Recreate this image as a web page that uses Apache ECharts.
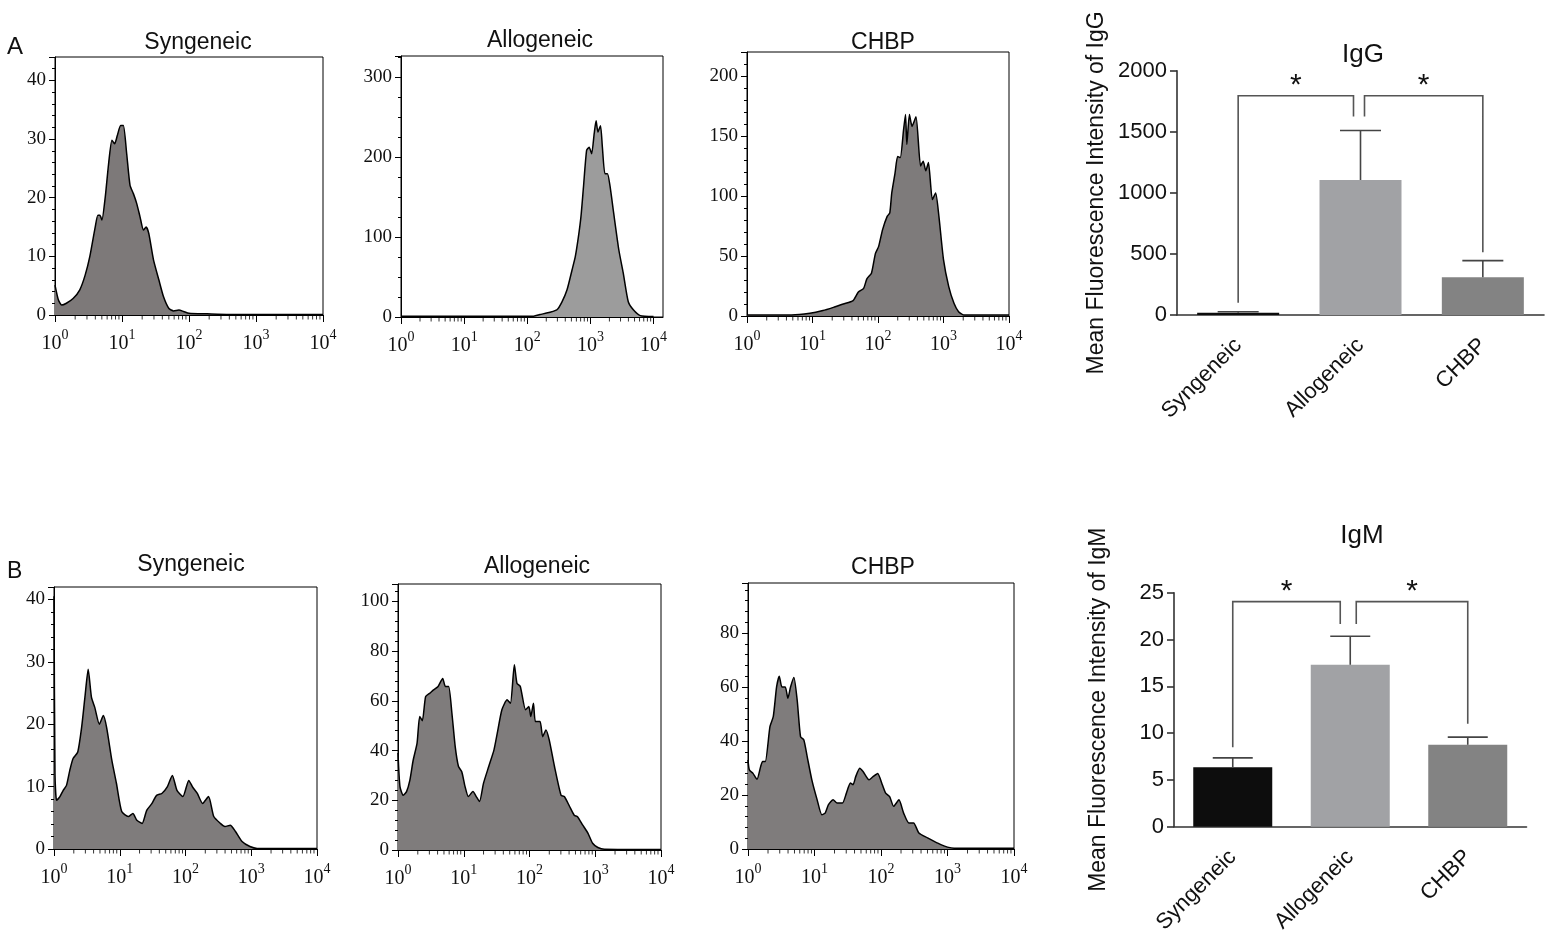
<!DOCTYPE html>
<html>
<head>
<meta charset="utf-8">
<script src="https://cdn.jsdelivr.net/npm/echarts@6/dist/echarts.min.js"></script>
<style>
html, body { margin: 0; padding: 0; background: #fff; }
#fig { width: 1546px; height: 937px; }
</style>
</head>
<body>
<div id="fig"></div>
<script>
// histogram points: [log10 of fluorescence, count]
var igGSyngeneic = [[0,5.1],[0.05,2.6],[0.1,1.7],[0.17,2.0],[0.27,2.8],[0.37,4.3],[0.45,6.8],[0.52,10],[0.6,15],[0.64,17],[0.67,17],[0.7,16.2],[0.75,20.1],[0.8,25.8],[0.85,29.8],[0.89,29.2],[0.93,30.6],[0.98,32.3],[1.02,32.3],[1.07,27.5],[1.12,22.1],[1.17,20.7],[1.22,19],[1.27,16.7],[1.32,14.5],[1.36,15],[1.4,13.9],[1.47,9.4],[1.55,6],[1.62,3.1],[1.7,1.1],[1.77,0.7],[1.85,0.85],[1.92,0.6],[2.0,0.3],[2.27,0.2],[2.6,0.1],[4,0.1]];
var igGAllogeneic = [[0,1],[2.1,1],[2.2,3],[2.36,6],[2.47,9],[2.55,19],[2.63,34],[2.71,59],[2.76,75],[2.81,100],[2.85,125],[2.89,162],[2.94,208],[2.98,212],[3.02,204],[3.06,229],[3.09,245],[3.12,231],[3.16,239],[3.19,212],[3.23,179],[3.27,179],[3.31,164],[3.37,129],[3.45,84],[3.52,55],[3.6,19],[3.68,9],[3.79,1.7],[4,0.5]];
var igGCHBP = [[0,0.8],[0.68,0.8],[0.96,2.2],[1.16,4.5],[1.32,7.2],[1.47,10],[1.62,12.8],[1.7,20],[1.78,23],[1.83,31],[1.9,35.7],[1.96,52],[2.01,58],[2.07,72],[2.14,83],[2.18,86],[2.21,102.5],[2.26,119],[2.3,133],[2.34,132],[2.39,155],[2.42,168],[2.44,143],[2.48,168],[2.52,158],[2.58,166],[2.65,125],[2.69,129],[2.73,121],[2.77,128],[2.83,97],[2.88,102.5],[2.93,83],[3.0,47],[3.08,24.5],[3.16,10.6],[3.23,3.6],[3.31,0.8],[4,0.8]];
var igMSyngeneic = [[0,40.5],[0.015,12],[0.04,7.8],[0.09,8.4],[0.14,9.4],[0.19,10.2],[0.24,12.6],[0.29,14.5],[0.36,15.5],[0.42,19.5],[0.47,24.3],[0.52,28.8],[0.57,24.3],[0.62,22.7],[0.69,20],[0.75,21.4],[0.8,19.5],[0.88,14.2],[0.95,10.5],[1.03,6],[1.13,5.2],[1.2,5.7],[1.26,4.6],[1.34,4.1],[1.41,6.2],[1.49,7.3],[1.56,8.6],[1.64,8.9],[1.72,9.9],[1.8,11.8],[1.87,9.4],[1.96,8.4],[2.05,11],[2.11,9.9],[2.18,8.9],[2.26,7.3],[2.35,8.4],[2.43,5.2],[2.53,4.1],[2.6,3.6],[2.68,3.8],[2.76,2.8],[2.86,1.2],[2.98,0.4],[3.09,0.1],[4,0.1]];
var igMAllogeneic = [[0,39],[0.03,25.5],[0.08,22],[0.13,23.5],[0.18,28],[0.23,36],[0.29,43],[0.33,53.7],[0.37,52],[0.42,61.7],[0.48,63],[0.54,64.4],[0.61,65.8],[0.68,69],[0.72,65.8],[0.77,65.8],[0.82,55],[0.87,41.6],[0.92,33.6],[0.97,31.5],[1.02,25.5],[1.07,21.5],[1.14,23.5],[1.19,21.5],[1.24,19.5],[1.3,26.8],[1.38,33.6],[1.46,40.3],[1.51,47],[1.58,56.4],[1.66,60.4],[1.71,59],[1.77,74.5],[1.81,67],[1.86,65.8],[1.94,56.4],[1.99,57.7],[2.02,53.7],[2.06,59],[2.09,51.7],[2.16,51.7],[2.2,45.6],[2.25,48.3],[2.3,44.3],[2.38,33.6],[2.48,22],[2.53,21.5],[2.61,17.5],[2.68,14],[2.73,13.4],[2.81,10],[2.89,6.7],[2.96,2.7],[3.04,1],[3.14,0.3],[4,0.2]];
var igMCHBP = [[0,33],[0.02,29.3],[0.075,28],[0.135,25.8],[0.19,30.5],[0.22,32.4],[0.26,32.4],[0.33,45.3],[0.38,49],[0.43,60],[0.47,64],[0.51,60],[0.56,60],[0.6,55.8],[0.64,60],[0.69,63.5],[0.74,55],[0.79,41.6],[0.84,40.4],[0.89,34.2],[0.96,25.6],[1.04,18.2],[1.11,12.7],[1.16,13.3],[1.21,16.4],[1.28,18.2],[1.34,17],[1.42,17],[1.48,20.7],[1.54,24.4],[1.58,23.8],[1.62,26.8],[1.68,29.9],[1.73,28.7],[1.82,25.6],[1.88,26.8],[1.95,28],[2.02,23.8],[2.07,20.7],[2.13,19.4],[2.19,15.8],[2.27,18.2],[2.34,13.3],[2.42,9.6],[2.49,9.6],[2.57,5.9],[2.7,4.1],[2.8,2.8],[2.9,1.6],[3.0,0.7],[3.1,0.3],[4,0.3]];

var groups = ['Syngeneic', 'Allogeneic', 'CHBP'];
var igGMean = [18, 1105, 309];
var igGError = [8, 405, 136];
var igMMean = [6.35, 17.3, 8.75];
var igMError = [1.0, 3.05, 0.82];
var barColors = ['#0d0d0d', '#a1a2a5', '#838383'];
// [outer group, middle group, outer foot, top, middle foot]
var igGBrackets = [[0, 1, 100, 1795, 1625], [2, 1, 514, 1795, 1625]];
var igMBrackets = [[0, 1, 8.5, 24.05, 21.65], [2, 1, 11.0, 24.05, 21.65]];

var SANS = 'Liberation Sans';
var SERIF = 'Liberation Serif';

var fig = echarts.init(document.getElementById('fig'));

var histPanels = [
    {data: igGSyngeneic, title: 'Syngeneic', tx: 193, ty: 26, box: {left: 55, top: 57, width: 268, height: 258}, xMax: 4, yMax: 44, yStep: 10, minor: 5, fill: '#7d7979'},
    {data: igGAllogeneic, title: 'Allogeneic', tx: 535, ty: 24, box: {left: 401, top: 56, width: 262, height: 261}, xMax: 4.15, yMax: 326, yStep: 100, minor: 4, fill: '#9c9c9c'},
    {data: igGCHBP, title: 'CHBP', tx: 878, ty: 26, box: {left: 747, top: 52, width: 262, height: 264}, xMax: 4, yMax: 220, yStep: 50, minor: 5, fill: '#7e7b7b'},
    {data: igMSyngeneic, title: 'Syngeneic', tx: 186, ty: 548, box: {left: 54, top: 587, width: 263, height: 262}, xMax: 4, yMax: 42, yStep: 10, minor: 5, fill: '#7f7c7c'},
    {data: igMAllogeneic, title: 'Allogeneic', tx: 532, ty: 550, box: {left: 398, top: 584, width: 263, height: 266}, xMax: 4, yMax: 107, yStep: 20, minor: 5, fill: '#7f7c7c'},
    {data: igMCHBP, title: 'CHBP', tx: 878, ty: 551, box: {left: 748, top: 583, width: 266, height: 266}, xMax: 4, yMax: 98.5, yStep: 20, minor: 5, fill: '#7f7c7c'}
];

// minor decade ticks 2..9 on the log axis
var decadeTicks = [];
for (var d = 0; d < 4; d++) {
    for (var k = 2; k <= 9; k++) decadeTicks.push([d + Math.log10(k), 0]);
}

var grids = [], xAxes = [], yAxes = [], series = [];
var titles = [
    {text: 'A', left: 2, top: 30, textStyle: {fontFamily: SANS, fontSize: 24, fontWeight: 'normal', color: '#111'}},
    {text: 'B', left: 2, top: 555, textStyle: {fontFamily: SANS, fontSize: 23, fontWeight: 'normal', color: '#111'}}
];

histPanels.forEach(function (p, i) {
    grids.push({left: p.box.left, top: p.box.top, width: p.box.width, height: p.box.height,
        show: true, borderColor: '#000', borderWidth: 1, containLabel: false});
    titles.push({text: p.title, left: p.tx, top: p.ty, textAlign: 'center',
        textStyle: {fontFamily: SANS, fontSize: 23, fontWeight: 'normal', color: '#111'}});
    xAxes.push({
        type: 'value', gridIndex: i, min: 0, max: p.xMax, interval: 1,
        axisLine: {show: true, onZero: false, lineStyle: {color: '#000', width: 1}},
        axisTick: {show: true, length: 7, lineStyle: {color: '#000', width: 1}},
        splitLine: {show: false},
        axisLabel: {
            showMaxLabel: p.xMax === 4, showMinLabel: true, margin: 13,
            formatter: function (v) { return '{b|10}{s|' + Math.round(v) + '}'; },
            rich: {
                b: {fontFamily: SERIF, fontSize: 20, color: '#111', padding: [6, 0, 0, 0], verticalAlign: 'bottom'},
                s: {fontFamily: SERIF, fontSize: 14, color: '#111', verticalAlign: 'top'}
            }
        }
    });
    yAxes.push({
        type: 'value', gridIndex: i, min: 0, max: p.yMax, interval: p.yStep,
        axisLine: {show: true, lineStyle: {color: '#000', width: 1}},
        axisTick: {show: true, length: 6, lineStyle: {color: '#000', width: 1}},
        minorTick: {show: true, splitNumber: p.minor, length: 3, lineStyle: {color: '#000', width: 1}},
        splitLine: {show: false},
        minorSplitLine: {show: false},
        axisLabel: {showMaxLabel: false, margin: 9, fontFamily: SERIF, fontSize: 19, color: '#111'}
    });
    series.push({
        type: 'line', xAxisIndex: i, yAxisIndex: i, data: p.data,
        symbol: 'none', smooth: 0.2, silent: true, z: 3,
        lineStyle: {color: '#000', width: 1.5},
        areaStyle: {color: p.fill, opacity: 1}
    });
    series.push({
        type: 'scatter', xAxisIndex: i, yAxisIndex: i, data: decadeTicks,
        symbol: 'rect', symbolSize: [1, 4], symbolOffset: [0, 2.5],
        itemStyle: {color: '#000'}, silent: true, clip: false, z: 4
    });
});

function errorBarItem(half) {
    return function (params, api) {
        var base = api.coord([api.value(0), api.value(1)]);
        var top = api.coord([api.value(0), api.value(2)]);
        var st = {stroke: '#444', lineWidth: 1.6};
        return {type: 'group', children: [
            {type: 'line', shape: {x1: base[0], y1: base[1], x2: top[0], y2: top[1]}, style: st},
            {type: 'line', shape: {x1: top[0] - half, y1: top[1], x2: top[0] + half, y2: top[1]}, style: st}
        ]};
    };
}

function bracketItem(shiftIn, shiftOut) {
    return function (params, api) {
        var outer = api.value(0), mid = api.value(1);
        var a = api.coord([outer, api.value(2)]);
        var b = api.coord([outer, api.value(3)]);
        var c = api.coord([mid, api.value(3)]);
        var e = api.coord([mid, api.value(4)]);
        var s = outer < mid ? shiftIn : shiftOut;
        c[0] += s; e[0] += s;
        return {type: 'group', children: [
            {type: 'polyline', shape: {points: [a, b, c, e]}, style: {stroke: '#555', lineWidth: 1.6, fill: null}},
            {type: 'text', x: (b[0] + c[0]) / 2, y: b[1] + 5,
                style: {text: '*', fontFamily: SANS, fontSize: 30, fill: '#111', align: 'center', verticalAlign: 'bottom'}}
        ]};
    };
}

var barCharts = [
    {box: {left: 1177, top: 70.7, width: 367, height: 244.3}, max: 2000, step: 500, mean: igGMean, err: igGError,
        brackets: igGBrackets, name: 'Mean Fluorescence Intensity of IgG', nameGap: 69, barWidth: 82, cap: 20.5, shift: [-7, 4],
        title: 'IgG', tx: 1358, ty: 37},
    {box: {left: 1174, top: 592.7, width: 352.5, height: 234}, max: 25, step: 5, mean: igMMean, err: igMError,
        brackets: igMBrackets, name: 'Mean Fluorescence Intensity of IgM', nameGap: 64, barWidth: 79, cap: 20, shift: [-10, 6],
        title: 'IgM', tx: 1357, ty: 518}
];

barCharts.forEach(function (b, j) {
    var gi = histPanels.length + j;
    grids.push({left: b.box.left, top: b.box.top, width: b.box.width, height: b.box.height});
    titles.push({text: b.title, left: b.tx, top: b.ty, textAlign: 'center',
        textStyle: {fontFamily: SANS, fontSize: 26, fontWeight: 'normal', color: '#111'}});
    xAxes.push({
        type: 'category', gridIndex: gi, data: groups,
        axisLine: {lineStyle: {color: '#333', width: 1.6}},
        axisTick: {alignWithLabel: true, length: 7, lineStyle: {color: '#333', width: 1.6}},
        axisLabel: {rotate: 45, margin: 27, fontFamily: SANS, fontSize: 22, color: '#111', interval: 0}
    });
    yAxes.push({
        type: 'value', gridIndex: gi, min: 0, max: b.max, interval: b.step,
        name: b.name, nameLocation: 'middle', nameGap: b.nameGap,
        nameTextStyle: {fontFamily: SANS, fontSize: 23, color: '#111'},
        axisLine: {show: true, lineStyle: {color: '#333', width: 1.6}},
        axisTick: {show: true, length: 7, lineStyle: {color: '#333', width: 1.6}},
        splitLine: {show: false},
        axisLabel: {margin: 10, fontFamily: SANS, fontSize: 22, color: '#111',
            formatter: function (v) { return String(v); }}
    });
    series.push({
        type: 'bar', xAxisIndex: gi, yAxisIndex: gi, barWidth: b.barWidth, silent: true, z: 2,
        data: b.mean.map(function (v, i) { return {value: v, itemStyle: {color: barColors[i]}}; })
    });
    series.push({
        type: 'custom', xAxisIndex: gi, yAxisIndex: gi, silent: true, z: 3,
        renderItem: errorBarItem(b.cap),
        encode: {x: 0, y: [1, 2]},
        data: b.mean.map(function (v, i) { return [i, v, v + b.err[i]]; })
    });
    series.push({
        type: 'custom', xAxisIndex: gi, yAxisIndex: gi, silent: true, z: 3,
        renderItem: bracketItem(b.shift[0], b.shift[1]),
        encode: {x: [0, 1], y: [2, 3, 4]},
        data: b.brackets
    });
});

fig.setOption({
    animation: false,
    backgroundColor: '#fff',
    title: titles,
    grid: grids,
    xAxis: xAxes,
    yAxis: yAxes,
    series: series
});
</script>
</body>
</html>
